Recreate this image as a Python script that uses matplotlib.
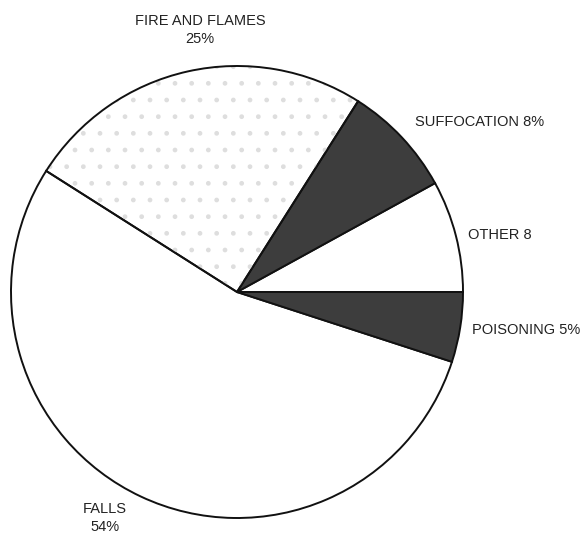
import matplotlib.pyplot as plt
from matplotlib.patches import Wedge

# injury causes, counterclockwise from 3 o'clock
causes = ['OTHER', 'SUFFOCATION', 'FIRE AND FLAMES', 'FALLS', 'POISONING']
shares = [8, 8, 25, 54, 5]
labels = ['OTHER 8', 'SUFFOCATION 8%', 'FIRE AND FLAMES\n25%', 'FALLS\n54%', 'POISONING 5%']

colors = ['white', '#3d3d3d', 'white', 'white', '#3d3d3d']

plt.rcParams['font.family'] = ['Liberation Sans', 'DejaVu Sans']

fig = plt.figure(figsize=(5.81, 5.35), dpi=100)
ax = fig.add_axes([0, 0, 1, 1])

# work in pixel units so the pie sits where it should
cx, cy, r = 237, 535 - 292, 226
wedges, _ = ax.pie(shares, colors=colors, startangle=0, counterclock=True,
                   center=(cx, cy), radius=r,
                   wedgeprops=dict(edgecolor='#111111', linewidth=1.4))

# faint stipple on the fire slice
fire = wedges[causes.index('FIRE AND FLAMES')]
dots = Wedge(fire.center, fire.r, fire.theta1, fire.theta2, fill=False,
             hatch='.', edgecolor='#dedede', linewidth=0)
ax.add_patch(dots)
fire.set_zorder(dots.get_zorder() + 1)
fire.set_facecolor('none')

ax.set_xlim(0, 581)
ax.set_ylim(0, 535)
ax.set_aspect('auto')
ax.axis('off')

txt = dict(fontsize=10.5, color='#222222')
ax.text(200, 535 - 30, labels[2], ha='center', va='center', linespacing=1.45, **txt)
ax.text(415, 535 - 122, labels[1], ha='left', va='center', **txt)
ax.text(468, 535 - 235, labels[0], ha='left', va='center', **txt)
ax.text(472, 535 - 330, labels[4], ha='left', va='center', **txt)
ax.text(105, 535 - 518, labels[3], ha='center', va='center', linespacing=1.45, **txt)

fig.savefig('out.png', dpi=100, facecolor='white')
